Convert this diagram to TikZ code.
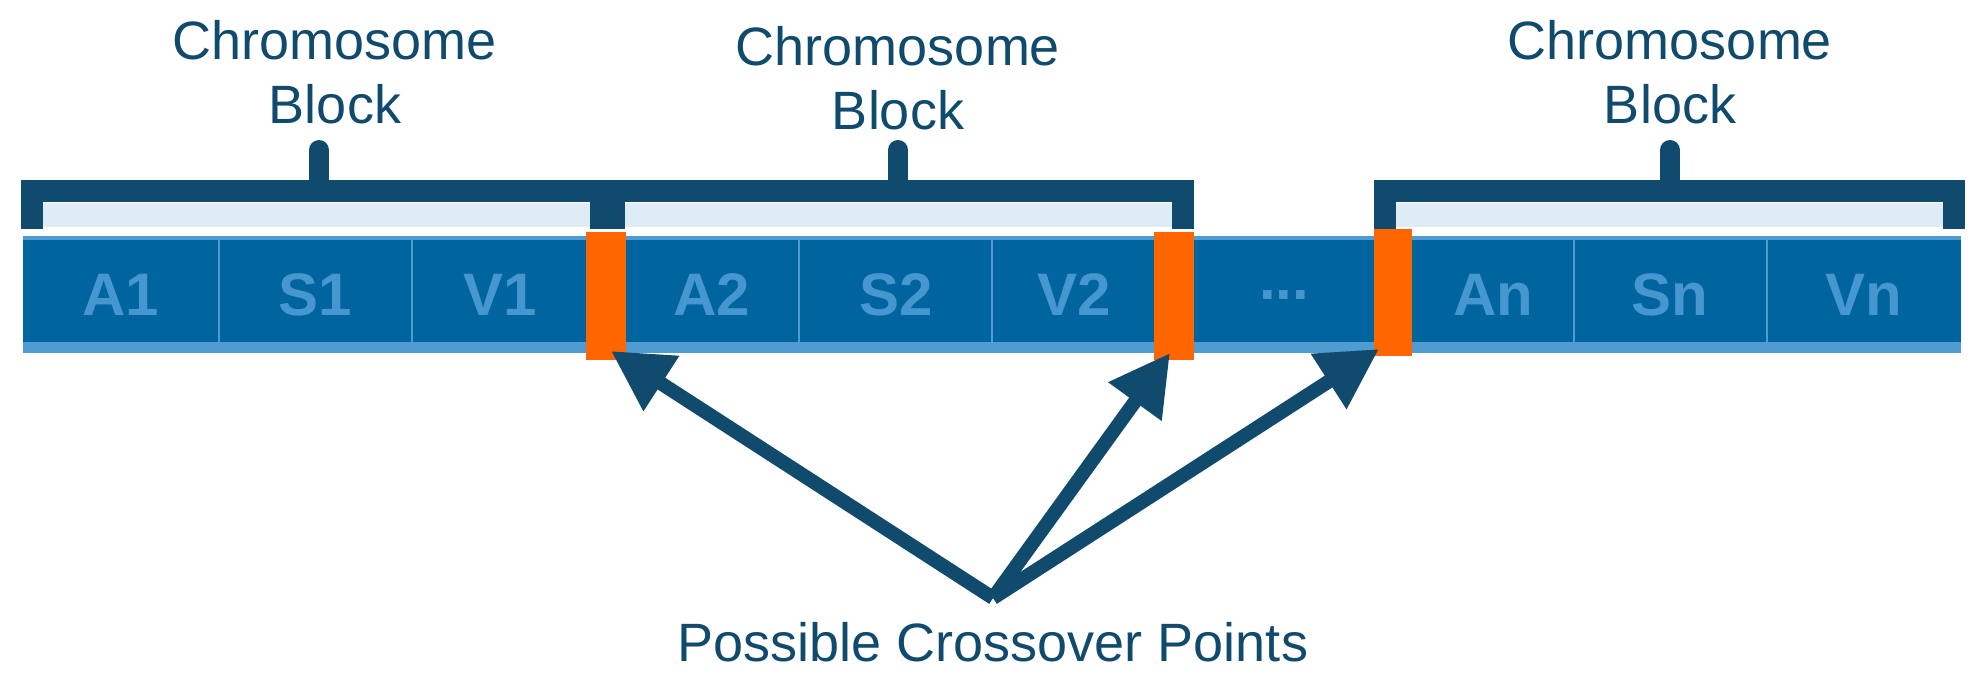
\documentclass[tikz,border=0pt]{standalone}
\usepackage{fontspec}
\setmainfont{Liberation Sans}
\usetikzlibrary{arrows.meta}
\definecolor{navy}{RGB}{16,74,108}
\definecolor{barblue}{RGB}{0,100,158}
\definecolor{edgeblue}{RGB}{80,155,210}
\definecolor{textblue}{RGB}{70,150,208}
\definecolor{paleblue}{RGB}{222,236,247}
\definecolor{cporange}{RGB}{255,102,0}
\tikzset{
  cell/.style={font=\fontsize{60}{60}\selectfont\bfseries, text=textblue, inner sep=0pt},
  label/.style={font=\fontsize{54}{64}\selectfont, text=navy, align=center, inner sep=0pt},
  bracket/.style={draw=navy, line width=22pt, line cap=round},
  crossover/.style={fill=cporange, draw=none},
  pointer/.style={draw=navy, line width=14pt, -{Triangle[length=60pt,width=62pt]}}
}
\begin{document}
\begin{tikzpicture}[x=1pt,y=-1pt]
		\useasboundingbox (0,0) rectangle (1983,692);
		%Chromosom
		\fill [edgeblue] (23,236) rectangle (1961,353);
		\fill [barblue] (23,240) rectangle (1961,342);
		\foreach \x in {219,412,799,992,1574,1767}
			\draw [edgeblue, line width=1.5pt] (\x,240) -- (\x,342);
		\node[cell] (a1) at (121,295) {A1};
		\node[cell] (s1) at (315,295) {S1};
		\node[cell] (v1) at (500,295) {V1};
		\node[cell] (a2) at (712,295) {A2};
		\node[cell] (s2) at (896,295) {S2};
		\node[cell] (v2) at (1074,295) {V2};
		\node[cell] (dots) at (1284,295) {...};
		\node[cell] (an) at (1493,295) {An};
		\node[cell] (sn) at (1670,295) {Sn};
		\node[cell] (vn) at (1864,295) {Vn};
		
		%Bloecke
		\foreach \l/\r/\m in {32/601/319, 614/1183/898, 1385/1954/1670} {
			\fill [paleblue] (\l+10,203) rectangle (\r-10,227);
			\draw [bracket, line cap=butt] (\l,229) -- (\l,191) -- (\r,191) -- (\r,229);
			\draw [draw=navy, line width=20pt, line cap=round] (\m,191) -- (\m,150);
		}
		\node[label] (b1) at (335,72) {Chromosome\\Block};
		\node[label] (b2) at (898,78) {Chromosome\\Block};
		\node[label] (b3) at (1670,72) {Chromosome\\Block};
		
		%Kreuzungspunkte
		\fill [crossover] (586,232) rectangle (626,360);
		\fill [crossover] (1154,232) rectangle (1194,360);
		\fill [crossover] (1374,229) rectangle (1412,356);
		\coordinate (cp1) at (611,351);
		\coordinate (cp2) at (1170,353);
		\coordinate (cp3) at (1379,349);
		\coordinate (origin) at (993,598);
		\draw [pointer] (origin) -- (cp1);
		\draw [pointer] (origin) -- (cp2);
		\draw [pointer] (origin) -- (cp3);
		\node[label] (points) at (993,642) {Possible Crossover Points};
\end{tikzpicture}
\end{document}
